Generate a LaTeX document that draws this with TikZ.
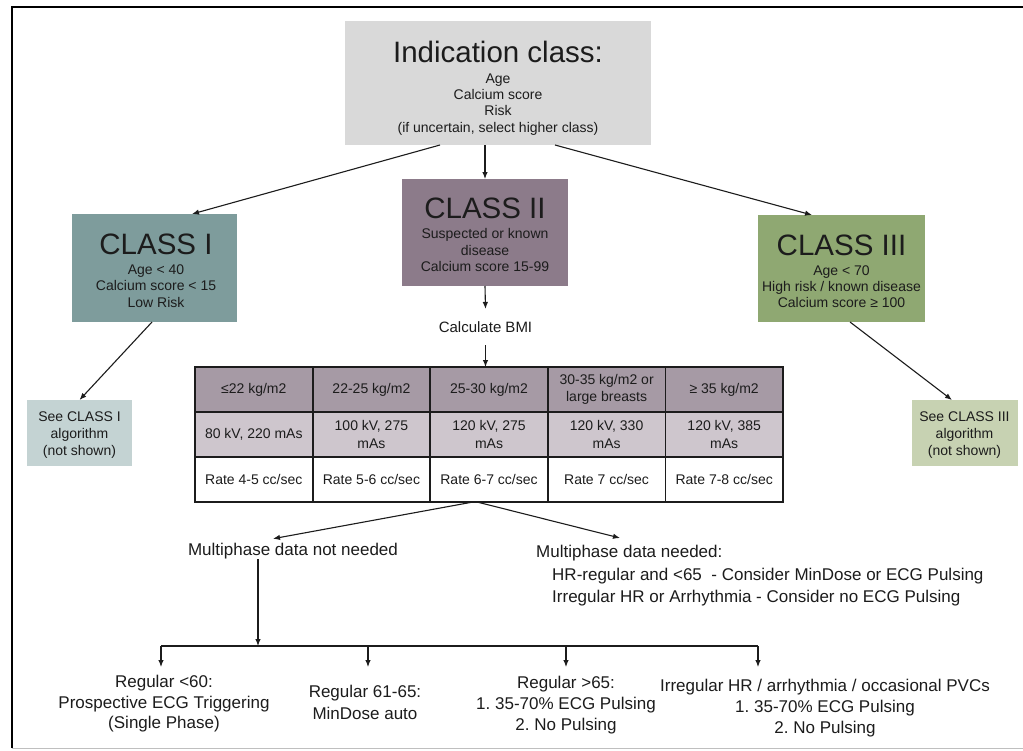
\documentclass[tikz,border=0pt]{standalone}
\usepackage{fontspec}
\setmainfont{Liberation Sans}
\usetikzlibrary{arrows.meta,calc}
\definecolor{ctop}{RGB}{217,217,217}
\definecolor{cone}{RGB}{126,156,156}
\definecolor{ctwo}{RGB}{140,123,138}
\definecolor{cthree}{RGB}{143,168,114}
\definecolor{seeone}{RGB}{196,211,211}
\definecolor{seethree}{RGB}{199,210,178}
\definecolor{thead}{RGB}{166,154,165}
\definecolor{tmid}{RGB}{206,198,205}
\definecolor{ink}{RGB}{28,28,28}
\newcommand\bigTT{\fontsize{29.5}{30}\selectfont}
\frenchspacing
\begin{document}
\begin{tikzpicture}[x=1pt,y=-1pt,
  box/.style={inner sep=0, outer sep=0},
  txt/.style={inner sep=0, align=center, text=ink},
  small/.style={font=\fontsize{14}{16.5}\selectfont},
  large/.style={font=\fontsize{17}{21}\selectfont},
  cell/.style={draw=ink, line width=1.8pt, minimum width=117.6pt, minimum height=45pt,
    inner sep=0, outer sep=0, align=center, text=ink, font=\fontsize{14}{17.5}\selectfont},
  arr/.style={draw=ink, line width=1.1pt, -{Latex[length=7pt,width=5.5pt]}},
  ln/.style={draw=ink, line width=1.1pt}
]
\useasboundingbox (0,0) rectangle (1023,750);
\fill[white] (0,0) rectangle (1023,750);
% frame
\draw[black, line width=1.8pt] (12,748) -- (12,7) -- (1023,7);
\draw[black!25, line width=1pt] (12,748) -- (1023,748);

% top box
\node[box, fill=ctop, minimum width=306pt, minimum height=124pt] (top) at (498,83) {};
\node[txt, small, font=\fontsize{14}{16.3}\selectfont] (toptext) at (498,88.3)
  {{\bigTT Indication class:}\\[4.2pt] Age\\ Calcium score\\ Risk\\ (if uncertain, select higher class)};

% class boxes
\node[box, fill=cone, minimum width=165pt, minimum height=108pt] (c1) at (154.5,268) {};
\node[txt, small] (c1text) at (156,271)
  {{\bigTT CLASS I}\\[3pt] Age < 40\\ Calcium score < 15\\ Low Risk};

\node[box, fill=ctwo, minimum width=166pt, minimum height=107pt] (c2) at (485,232.5) {};
\node[txt, small] (c2text) at (485,235)
  {{\bigTT CLASS II}\\[4pt] Suspected or known\\ disease\\ Calcium score 15-99};

\node[box, fill=cthree, minimum width=167pt, minimum height=107pt] (c3) at (841.5,268.5) {};
\node[txt, small, font=\fontsize{14}{16}\selectfont] (c3text) at (841.5,271)
  {{\bigTT CLASS III}\\[4pt] Age < 70\\ High risk / known disease\\ Calcium score ≥ 100};

% see boxes
\node[box, fill=seeone, minimum width=105pt, minimum height=66pt] (s1) at (79.5,433) {};
\node[txt, font=\fontsize{14}{17}\selectfont] (s1text) at (79.5,435.5)
  {See CLASS I\\ algorithm\\ (not shown)};
\node[box, fill=seethree, minimum width=106pt, minimum height=66pt] (s3) at (965,433) {};
\node[txt, font=\fontsize{14}{17}\selectfont] (s3text) at (964.5,435.5)
  {See CLASS III\\ algorithm\\ (not shown)};

% calculate BMI
\node[txt, font=\fontsize{15}{18}\selectfont, text height=10.7pt, text depth=0pt, inner xsep=2pt, inner ysep=12.5pt] (bmi) at (485.5,327) {Calculate BMI};

% table
\foreach \t [count=\i] in {{≤22 kg/m2},{22-25 kg/m2},{25-30 kg/m2},{30-35 kg/m2 or\\large breasts},{≥ 35 kg/m2}}
  \node[cell, fill=thead] (h\i) at ({253.8+117.6*(\i-1)},389.5) {\t};
\foreach \t [count=\i] in {{80 kV, 220 mAs},{100 kV, 275\\mAs},{120 kV, 275\\mAs},{120 kV, 330\\mAs},{120 kV, 385\\mAs}}
  \node[cell, fill=tmid] (m\i) at ({253.8+117.6*(\i-1)},434.5) {\t};
\foreach \t [count=\i] in {{Rate 4-5 cc/sec},{Rate 5-6 cc/sec},{Rate 6-7 cc/sec},{Rate 7 cc/sec},{Rate 7-8 cc/sec}}
  \node[cell, fill=white] (r\i) at ({253.8+117.6*(\i-1)},479.5) {\t};

% multiphase
\node[txt, large, text height=12.2pt, text depth=0pt, inner xsep=0pt, inner ysep=4pt] (mnn) at (293,549) {Multiphase data not needed};
\node[inner xsep=0pt, inner ysep=7pt, anchor=north west, align=left, text=ink, font=\fontsize{17}{22.5}\selectfont] (mn) at (536,538)
  {Multiphase data needed:\\
   \hspace*{16pt}HR-regular and <65\ \ - Consider MinDose or ECG Pulsing\\
   \hspace*{16pt}Irregular HR or Arrhythmia - Consider no ECG Pulsing};

% bottom options
\node[txt, font=\fontsize{17}{20.5}\selectfont] (b1) at (164,704) {Regular <60:\\ Prospective ECG Triggering\\ (Single Phase)};
\node[txt, font=\fontsize{17}{22}\selectfont] (b2) at (365,702) {Regular 61-65:\\ MinDose auto};
\node[txt, font=\fontsize{17}{21}\selectfont] (b3) at (566,704.8) {Regular >65:\\ 1. 35-70\% ECG Pulsing\\ 2. No Pulsing};
\node[txt, font=\fontsize{17}{21}\selectfont] (b4) at (825,707.8) {Irregular HR / arrhythmia / occasional PVCs\\ 1. 35-70\% ECG Pulsing\\ 2. No Pulsing};

\coordinate (bus1) at (161,646);
\coordinate (bus2) at (368,646);
\coordinate (bus3) at (566,646);
\coordinate (bus4) at (758,646);
\coordinate (t1) at (161,667);
\coordinate (t2) at (368,667);
\coordinate (t3) at (566,667);
\coordinate (t4) at (758,667);

% connectors
\draw[arr] ([xshift=-58pt]top.south) -- ([xshift=37.5pt]c1.north);
\draw[arr] (top.south -| c2.north) -- (c2.north);
\draw[arr] ([xshift=57pt]top.south) -- ([xshift=-29.5pt]c3.north);
\draw[arr] ([xshift=-2.5pt]c1.south) -- (s1.north);
\draw[arr] ([xshift=8.5pt]c3.south) -- ([xshift=-13pt]s3.north);
\draw[arr] (c2.south) -- (bmi.north);
\draw[arr] (bmi.south) -- (bmi.south |- h3.north);
\draw[arr] ([xshift=-16pt]r3.south) -- ([xshift=-20pt]mnn.north);
\draw[arr] ([xshift=-12pt]r3.south) -- ([xshift=84pt]mn.north west);
\draw[arr] ([xshift=-35pt]mnn.south) -- ([xshift=-35pt]mnn.south |- bus1);
\draw[ln] (bus1) -- (bus4);
\draw[arr] (bus1) -- (t1);
\draw[arr] (bus2) -- (t2);
\draw[arr] (bus3) -- (t3);
\draw[arr] (bus4) -- (t4);
\end{tikzpicture}
\end{document}
